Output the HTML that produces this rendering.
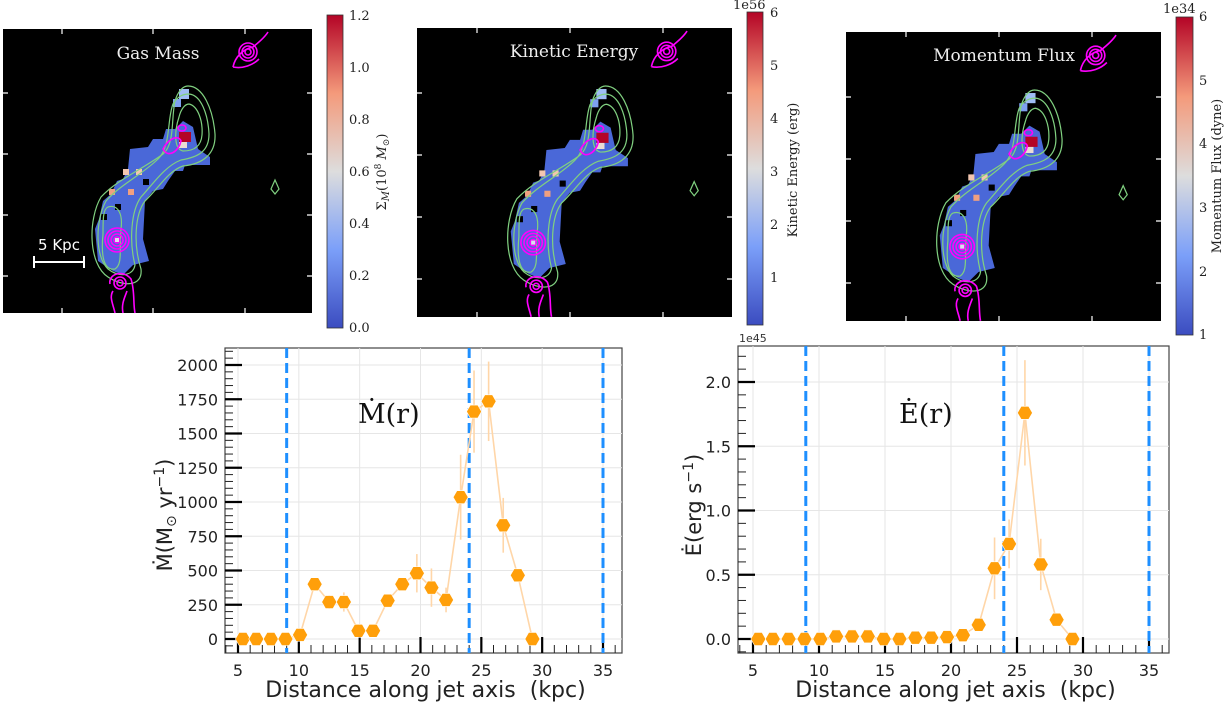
<!DOCTYPE html>
<html><head><meta charset="utf-8">
<style>
html,body{margin:0;padding:0;background:#fff;width:1228px;height:710px;overflow:hidden}
svg{position:absolute;left:0;top:0}
text{font-family:"DejaVu Sans","Liberation Sans",sans-serif}
text.serif,.serif text{font-family:"DejaVu Serif","Liberation Serif",serif}
</style></head>
<body>
<svg id="fig" width="1228" height="710" viewBox="0 0 1228 710">
<defs>
<linearGradient id="cw" x1="0" y1="1" x2="0" y2="0">
<stop offset="0" stop-color="#3b4cc0"/><stop offset="0.25" stop-color="#7b9ff9"/>
<stop offset="0.5" stop-color="#dddddd"/><stop offset="0.75" stop-color="#f49a7b"/>
<stop offset="1" stop-color="#b40426"/></linearGradient>
<g id="blob">
<polygon points="127,120 145,118 150,110 160,110 163,100 172,100 180,92 190,98 195,120 207,128 207,136 182,136 180,142 172,142 165,152 160,160 150,162 142,172 140,210 146,232 130,236 120,246 110,242 95,232 92,200 96,190 100,172 108,165 114,152 120,150 125,140" fill="#4a68d8"/>
<rect x="176" y="60" width="10" height="10" fill="#9fbdf5"/>
<rect x="170" y="70" width="8" height="8" fill="#7ea0f0"/>
<rect x="106" y="160" width="6" height="6" fill="#f0a080"/>
<rect x="125" y="160" width="6" height="6" fill="#f0a080"/>
<rect x="133" y="140" width="6" height="6" fill="#f2c6b0"/>
<rect x="120" y="140" width="6" height="6" fill="#f2c6b0"/>
<rect x="112" y="175" width="6" height="6" fill="#000"/>
<rect x="98" y="185" width="6" height="6" fill="#000"/>
<rect x="140" y="150" width="6" height="6" fill="#000"/>
<rect x="176" y="103" width="12" height="10" fill="#b40426"/>
<rect x="176" y="113" width="8" height="6" fill="#eadcd4"/>
<path d="M185,57 C200,57 210,80 212,105 C213,125 200,135 180,137 C165,142 155,160 142,172 C132,185 130,215 138,240 C140,258 120,258 105,248 C85,235 85,190 98,168 C115,150 140,140 160,125 C172,115 168,90 172,72 C175,62 180,57 185,57Z" fill="none" stroke="#80d080" stroke-width="1.2"/>
<path d="M186,65 C198,66 205,85 206,105 C206,122 196,128 178,131 C162,137 150,155 138,168 C128,182 126,212 132,236 C130,248 115,248 105,240 C92,228 92,192 103,172 C118,155 140,145 155,130 C168,118 164,90 170,75 C175,67 180,65 186,65Z" fill="none" stroke="#80d080" stroke-width="1.2"/>
<path d="M186,75 C195,77 200,92 199,106 C198,118 190,122 180,122 C170,120 172,100 176,88 C178,80 182,75 186,75Z" fill="none" stroke="#80d080" stroke-width="1.2"/>
<path d="M105,178 C115,175 120,185 118,200 C116,220 120,235 112,240 C100,242 98,225 100,205 C100,190 100,180 105,178Z" fill="none" stroke="#80d080" stroke-width="1.2"/>
<path d="M272,151 L276,160 L272,165 L268,160Z" fill="none" stroke="#80d080" stroke-width="1.2"/>
<g fill="none" stroke="#ff00ff" stroke-width="1.6">
<circle cx="114" cy="211" r="12"/><circle cx="114" cy="211" r="9"/><circle cx="114" cy="211" r="6"/><circle cx="114" cy="211" r="3"/>
<circle cx="117" cy="254" r="6"/><circle cx="117" cy="254" r="3"/>
<path d="M107,255 C105,245 120,240 128,250 C132,262 130,275 132,284 M112,284 C110,275 106,268 110,262 M120,284 C118,275 122,268 124,262"/>
<circle cx="245" cy="23" r="9"/><circle cx="245" cy="23" r="6"/><circle cx="245" cy="23" r="3"/>
<path d="M230,38 C232,28 240,20 250,18 C255,14 262,8 265,3 M230,38 C240,40 250,36 256,30"/>
<path d="M160,120 C165,110 175,105 178,112 C176,122 165,130 160,120Z"/>
<ellipse cx="179" cy="99" rx="4" ry="3"/>
</g>
<rect x="112" y="209" width="4" height="4" fill="#dde"/>
</g>
</defs>

<!-- Panel 1 -->
<g transform="translate(3,29)">
<rect width="309" height="284" fill="#000"/>
<use href="#blob"/>
<text x="155" y="30" class="serif" fill="#eee" font-size="17" text-anchor="middle">Gas Mass</text>
<line x1="30" y1="233" x2="82" y2="233" stroke="#fff" stroke-width="2"/>
<line x1="31" y1="227" x2="31" y2="239" stroke="#fff" stroke-width="2"/>
<line x1="81" y1="227" x2="81" y2="239" stroke="#fff" stroke-width="2"/>
<text x="56" y="221" fill="#fff" font-size="15" text-anchor="middle">5 Kpc</text>
<g stroke="#fff" stroke-width="1.2"><path d="M59,0v5M150,0v5M242,0v5M59,284v-5M150,284v-5M242,284v-5M0,64h5M0,125h5M0,186h5M0,247h5M309,64h-5M309,125h-5M309,186h-5M309,247h-5"/></g>
</g>
<g>
<rect x="327" y="15" width="16" height="313" fill="url(#cw)" stroke="#333" stroke-width="0.8"/>
<g class="serif" font-size="13" fill="#222">
<text x="349" y="332">0.0</text><text x="349" y="280">0.2</text><text x="349" y="228">0.4</text><text x="349" y="176">0.6</text><text x="349" y="124">0.8</text><text x="349" y="72">1.0</text><text x="349" y="20">1.2</text>
</g>
<text transform="translate(386,172) rotate(-90)" class="serif" font-size="13" text-anchor="middle" fill="#222">Σ<tspan font-style="italic" font-size="10" dy="3">M</tspan><tspan dy="-3">(10</tspan><tspan font-size="9" dy="-5">8</tspan><tspan dy="5"> </tspan><tspan font-style="italic">M</tspan><tspan font-size="9" dy="3">⊙</tspan><tspan dy="-3">)</tspan></text>
</g>

<!-- Panel 2 -->
<g transform="translate(417,28)">
<rect width="315" height="289" fill="#000"/>
<g transform="scale(1.019,1.017)"><use href="#blob"/></g>
<text x="157" y="29" class="serif" fill="#eee" font-size="17" text-anchor="middle">Kinetic Energy</text>
<g stroke="#fff" stroke-width="1.2"><path d="M60,0v5M153,0v5M246,0v5M60,289v-5M153,289v-5M246,289v-5M0,65h5M0,127h5M0,189h5M0,251h5M315,65h-5M315,127h-5M315,189h-5M315,251h-5"/></g>
</g>
<g>
<rect x="747" y="12" width="16" height="313" fill="url(#cw)" stroke="#333" stroke-width="0.8"/>
<text x="733" y="9" class="serif" font-size="13" fill="#222">1e56</text>
<g class="serif" font-size="13" fill="#222">
<text x="770" y="282">1</text><text x="770" y="229">2</text><text x="770" y="176">3</text><text x="770" y="123">4</text><text x="770" y="70">5</text><text x="770" y="17">6</text>
</g>
<text transform="translate(797,170) rotate(-90)" class="serif" font-size="13" text-anchor="middle" fill="#222">Kinetic Energy (erg)</text>
</g>

<!-- Panel 3 -->
<g transform="translate(846,32)">
<rect width="315" height="289" fill="#000"/>
<g transform="scale(1.019,1.017)"><use href="#blob"/></g>
<text x="158" y="29" class="serif" fill="#eee" font-size="17" text-anchor="middle">Momentum Flux</text>
<g stroke="#fff" stroke-width="1.2"><path d="M60,0v5M153,0v5M246,0v5M60,289v-5M153,289v-5M246,289v-5M0,65h5M0,127h5M0,189h5M0,251h5M315,65h-5M315,127h-5M315,189h-5M315,251h-5"/></g>
</g>
<g>
<rect x="1176" y="17" width="17" height="318" fill="url(#cw)" stroke="#333" stroke-width="0.8"/>
<text x="1163" y="13" class="serif" font-size="13" fill="#222">1e34</text>
<g class="serif" font-size="13" fill="#222">
<text x="1199" y="339">1</text><text x="1199" y="276">2</text><text x="1199" y="212">3</text><text x="1199" y="148">4</text><text x="1199" y="85">5</text><text x="1199" y="21">6</text>
</g>
<text transform="translate(1221,176) rotate(-90)" class="serif" font-size="13" text-anchor="middle" fill="#222">Momentum Flux (dyne)</text>
</g>

<g id="chart1"></g>
<g id="chart2"></g>
</svg>
<script>
const distances = [5.4,6.5,7.7,8.9,10.1,11.3,12.5,13.7,14.9,16.1,17.3,18.5,19.7,20.9,22.1,23.3,24.4,25.6,26.8,28.0,29.2];
const massRate = [0,0,0,0,30,400,270,270,60,60,280,400,480,375,285,1035,1660,1735,830,465,0];
const massErr = [0,0,0,0,0,0,50,70,0,0,0,0,140,140,90,310,300,290,200,0,0];
const energyRate = [0,0,0,0,0,0.02,0.02,0.02,0,0,0.01,0.01,0.015,0.03,0.11,0.55,0.74,1.76,0.58,0.15,0];
const energyErr = [0,0,0,0,0,0,0,0,0,0,0,0,0,0,0,0.24,0.19,0.41,0.2,0,0];
const xTicks = [5,10,15,20,25,30,35];
const massTicks = [0,250,500,750,1000,1250,1500,1750,2000];
const energyTicks = [0,0.5,1.0,1.5,2.0];
const energyTickLabels = ["0.0","0.5","1.0","1.5","2.0"];
const boundaries = [9,24,35];

const NS="http://www.w3.org/2000/svg";
function mk(p,tag,a){const e=document.createElementNS(NS,tag);for(const k in a)e.setAttribute(k,a[k]);p.appendChild(e);return e;}

function chart(g,o){
  const X=v=>o.x5+(v-5)*(o.x35-o.x5)/30;
  const Y=v=>o.y0+(v-0)*(o.yTop-o.y0)/o.vTop;
  const fr=mk(g,'rect',{x:o.L,y:o.T,width:o.R-o.L,height:o.B-o.T,fill:'#fff',stroke:'#444','stroke-width':1.2});
  
  
  xTicks.forEach(t=>mk(g,'line',{x1:X(t),x2:X(t),y1:o.T,y2:o.B,stroke:'#e6e6e6','stroke-width':1}));
  o.yt.forEach(t=>mk(g,'line',{x1:o.L,x2:o.R,y1:Y(t),y2:Y(t),stroke:'#e6e6e6','stroke-width':1}));
  for(let v=o.minStart; Y(v)>o.T; v+=o.minor){const y=Y(v); if(y<o.B) mk(g,'line',{x1:o.L,x2:o.L+8,y1:y,y2:y,stroke:'#222','stroke-width':1});}
  for(let v=4; X(v)<o.R; v+=1){const x=X(v); if(x>o.L) mk(g,'line',{x1:x,x2:x,y1:o.B,y2:o.B-8,stroke:'#222','stroke-width':1});}
  o.yt.forEach((t,i)=>{const y=Y(t);
    mk(g,'line',{x1:o.L,x2:o.L+17,y1:y,y2:y,stroke:'#000','stroke-width':2.2});
    const tx=mk(g,'text',{x:o.L-7,y:y+6,'font-size':16,'text-anchor':'end',fill:'#222'});tx.textContent=o.ytl[i];
    
    });
  xTicks.forEach(t=>{const x=X(t);
    mk(g,'line',{x1:x,x2:x,y1:o.B,y2:o.B-16,stroke:'#000','stroke-width':2.2});
    const tx=mk(g,'text',{x:x,y:o.B+23,'font-size':16,'text-anchor':'middle',fill:'#222'});tx.textContent=t;
    
    });
  boundaries.forEach(b=>{const l=mk(g,'line',{x1:X(b),x2:X(b),y1:o.T,y2:o.B,stroke:'#1e8fff','stroke-width':3,'stroke-dasharray':'10,5'});
    
    });
  mk(g,'polyline',{points:distances.map((d,i)=>X(d)+','+Y(o.vals[i])).join(' '),fill:'none',stroke:'#ffd6a8','stroke-width':1.6});
  o.vals.forEach((v,i)=>{if(o.errs[i]>0){const e=mk(g,'line',{x1:X(distances[i]),x2:X(distances[i]),y1:Y(v-o.errs[i]),y2:Y(v+o.errs[i]),stroke:'#ffd6a8','stroke-width':1.6});
    
    }});
  o.vals.forEach((v,i)=>{const cx=X(distances[i]),cy=Y(v),r=7.5;let pts=[];
    for(let k=0;k<6;k++){const a=Math.PI/3*k;pts.push((cx+r*Math.cos(a))+','+(cy+r*Math.sin(a)));}
    const m=mk(g,'polygon',{points:pts.join(' '),fill:'#ff9f0a',stroke:'#fff','stroke-width':0.6});
    
    });
  const xl=mk(g,'text',{x:(o.L+o.R)/2+2,y:697,'font-size':22,'text-anchor':'middle',fill:'#222'});xl.textContent='Distance along jet axis\u00a0\u00a0(kpc)';
  
  
  const yl=mk(g,'text',{transform:`translate(${o.ylx},${o.yly}) rotate(-90)`,'font-size':21,'text-anchor':'middle',fill:'#222'});
  yl.innerHTML=o.ylab;
  
  
  const an=mk(g,'text',{x:o.annX,y:423,'font-size':27,'class':'serif',fill:'#111'});an.textContent=o.ann;
  
  
}

chart(document.getElementById('chart1'),{L:225,R:622,T:348,B:653,x5:238,x35:603,y0:639,yTop:365,vTop:2000,
  yt:massTicks,ytl:massTicks.map(String),minor:50,minStart:-50,vals:massRate,errs:massErr,
  ylab:'Ṁ(M<tspan font-size="14" dy="4">⊙</tspan><tspan dy="-4"> yr</tspan><tspan font-size="14" dy="-8">−1</tspan><tspan dy="8">)</tspan>',ylx:172,yly:515,ann:'Ṁ(r)',annX:358});
chart(document.getElementById('chart2'),{L:738,R:1169,T:346,B:653,x5:753,x35:1149,y0:639,yTop:382,vTop:2.0,
  yt:energyTicks,ytl:energyTickLabels,minor:0.1,minStart:-0.1,vals:energyRate,errs:energyErr,
  ylab:'Ė(erg s<tspan font-size="14" dy="-8">−1</tspan><tspan dy="8">)</tspan>',ylx:701,yly:505,ann:'Ė(r)',annX:899});
const e45=mk(document.getElementById('chart2'),'text',{x:739,y:342,'font-size':11,fill:'#333'});e45.textContent='1e45';


</script>
</body></html>
